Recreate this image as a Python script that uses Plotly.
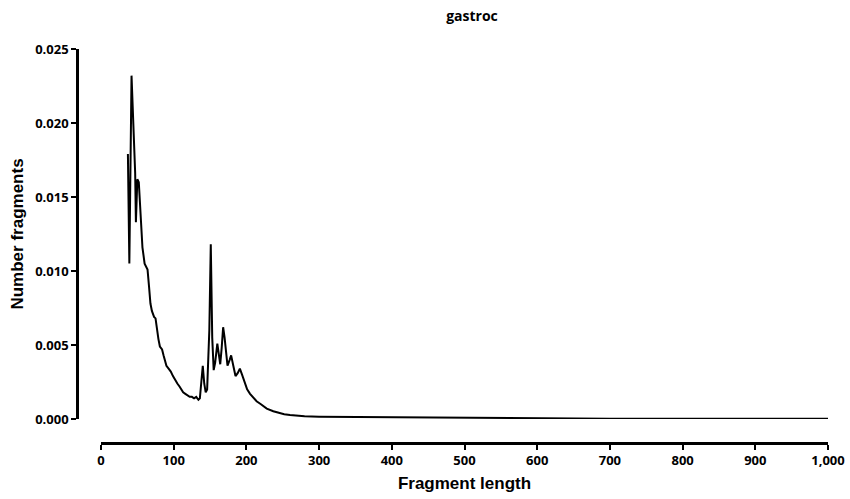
import plotly.graph_objects as go

# Fragment length (bp) and fraction of fragments
fragment_length = [37, 38, 39, 42, 44, 47, 48, 49, 50, 52, 55, 57, 60, 62, 64, 66, 68, 70,
                   73, 75, 77, 79, 81, 84, 86, 88, 90, 93, 96, 99, 102, 105, 108, 111, 113,
                   116, 119, 122, 125, 128, 131, 134, 136, 138, 140, 142, 144, 146, 148,
                   149, 151, 153, 155, 157, 160, 162, 164, 166, 168, 170, 172, 174, 177,
                   179, 182, 185, 188, 191, 194, 198, 201, 205, 210, 214, 220, 228, 237,
                   245, 252, 260, 270, 280, 300, 330, 360, 400, 450, 500, 550, 600, 700,
                   800, 900, 1000]
number_fragments = [0.0179, 0.0105, 0.0105, 0.0232, 0.0200, 0.0166, 0.0133, 0.0150, 0.0162,
                    0.0160, 0.0130, 0.0116, 0.0105, 0.0103, 0.0101, 0.0090, 0.0078, 0.0073,
                    0.0069, 0.0068, 0.0060, 0.0054, 0.0049, 0.0047, 0.0043, 0.0039, 0.0036,
                    0.0034, 0.0032, 0.0029, 0.0026, 0.0024, 0.0022, 0.0020, 0.0018, 0.0017,
                    0.0016, 0.0015, 0.0015, 0.0014, 0.0015, 0.0013, 0.0014, 0.0026, 0.0036,
                    0.0024, 0.0018, 0.0020, 0.0040, 0.0060, 0.0118, 0.0055, 0.0033, 0.0038,
                    0.0051, 0.0042, 0.0037, 0.0048, 0.0062, 0.0055, 0.0045, 0.0036, 0.0040,
                    0.0043, 0.0036, 0.0029, 0.0031, 0.0034, 0.0030, 0.0024, 0.0020, 0.0017,
                    0.0014, 0.0012, 0.0010, 0.0007, 0.00052, 0.0004, 0.00032, 0.00027,
                    0.00021, 0.00018, 0.00016, 0.00015, 0.00014, 0.00012, 0.00009, 0.00006,
                    0.00004, 0.00003, 0.00002, 0.00001, 0.00001, 0.00001]

x_ticks = [0, 100, 200, 300, 400, 500, 600, 700, 800, 900, 1000]
y_ticks = [0.000, 0.005, 0.010, 0.015, 0.020, 0.025]

fig = go.Figure()
fig.add_trace(go.Scatter(x=fragment_length, y=number_fragments, mode="lines",
                         line=dict(color="black", width=2), showlegend=False))

W, H = 850, 499
ml, mr, mt, mb = 60, 22, 49, 56
pw = W - ml - mr
ph = H - mt - mb

tick_font = dict(family="Open Sans", size=13, color="black", weight="bold")
title_font = dict(family="Liberation Sans", size=17, color="black", weight="bold")

fig.update_layout(
    width=W, height=H,
    margin=dict(l=ml, r=mr, t=mt, b=mb, autoexpand=False),
    paper_bgcolor="white", plot_bgcolor="white",
    title=dict(text="gastroc", x=472 / W, xanchor="center", y=1 - 16 / H, yanchor="middle",
               font=dict(family="Open Sans", size=14, color="black", weight="bold")),
    xaxis=dict(
        domain=[(101 - ml) / pw, 1.0], range=[0, 1000],
        anchor="free", position=0, automargin=False,
        tickvals=x_ticks, tickformat=",", ticks="outside", ticklen=5, tickwidth=2,
        tickcolor="black", showline=True, linewidth=2.5, linecolor="black",
        showgrid=False, zeroline=False, tickfont=tick_font,
        title=dict(text="Fragment length", font=title_font, standoff=8),
    ),
    yaxis=dict(
        domain=[(443 - 419) / ph, 1.0], range=[0, 0.025],
        anchor="free", position=(77 - ml) / pw, automargin=False,
        tickvals=y_ticks, tickformat=".3f", ticks="outside", ticklen=5, tickwidth=2,
        tickcolor="black", showline=True, linewidth=2.5, linecolor="black",
        showgrid=False, zeroline=False, tickfont=tick_font,
        title=dict(text="Number fragments", font=title_font, standoff=6),
    ),
)

fig.write_html("out.html", config={"displayModeBar": False},
               post_script="document.body.style.margin='0px';document.body.style.overflow='hidden';")
